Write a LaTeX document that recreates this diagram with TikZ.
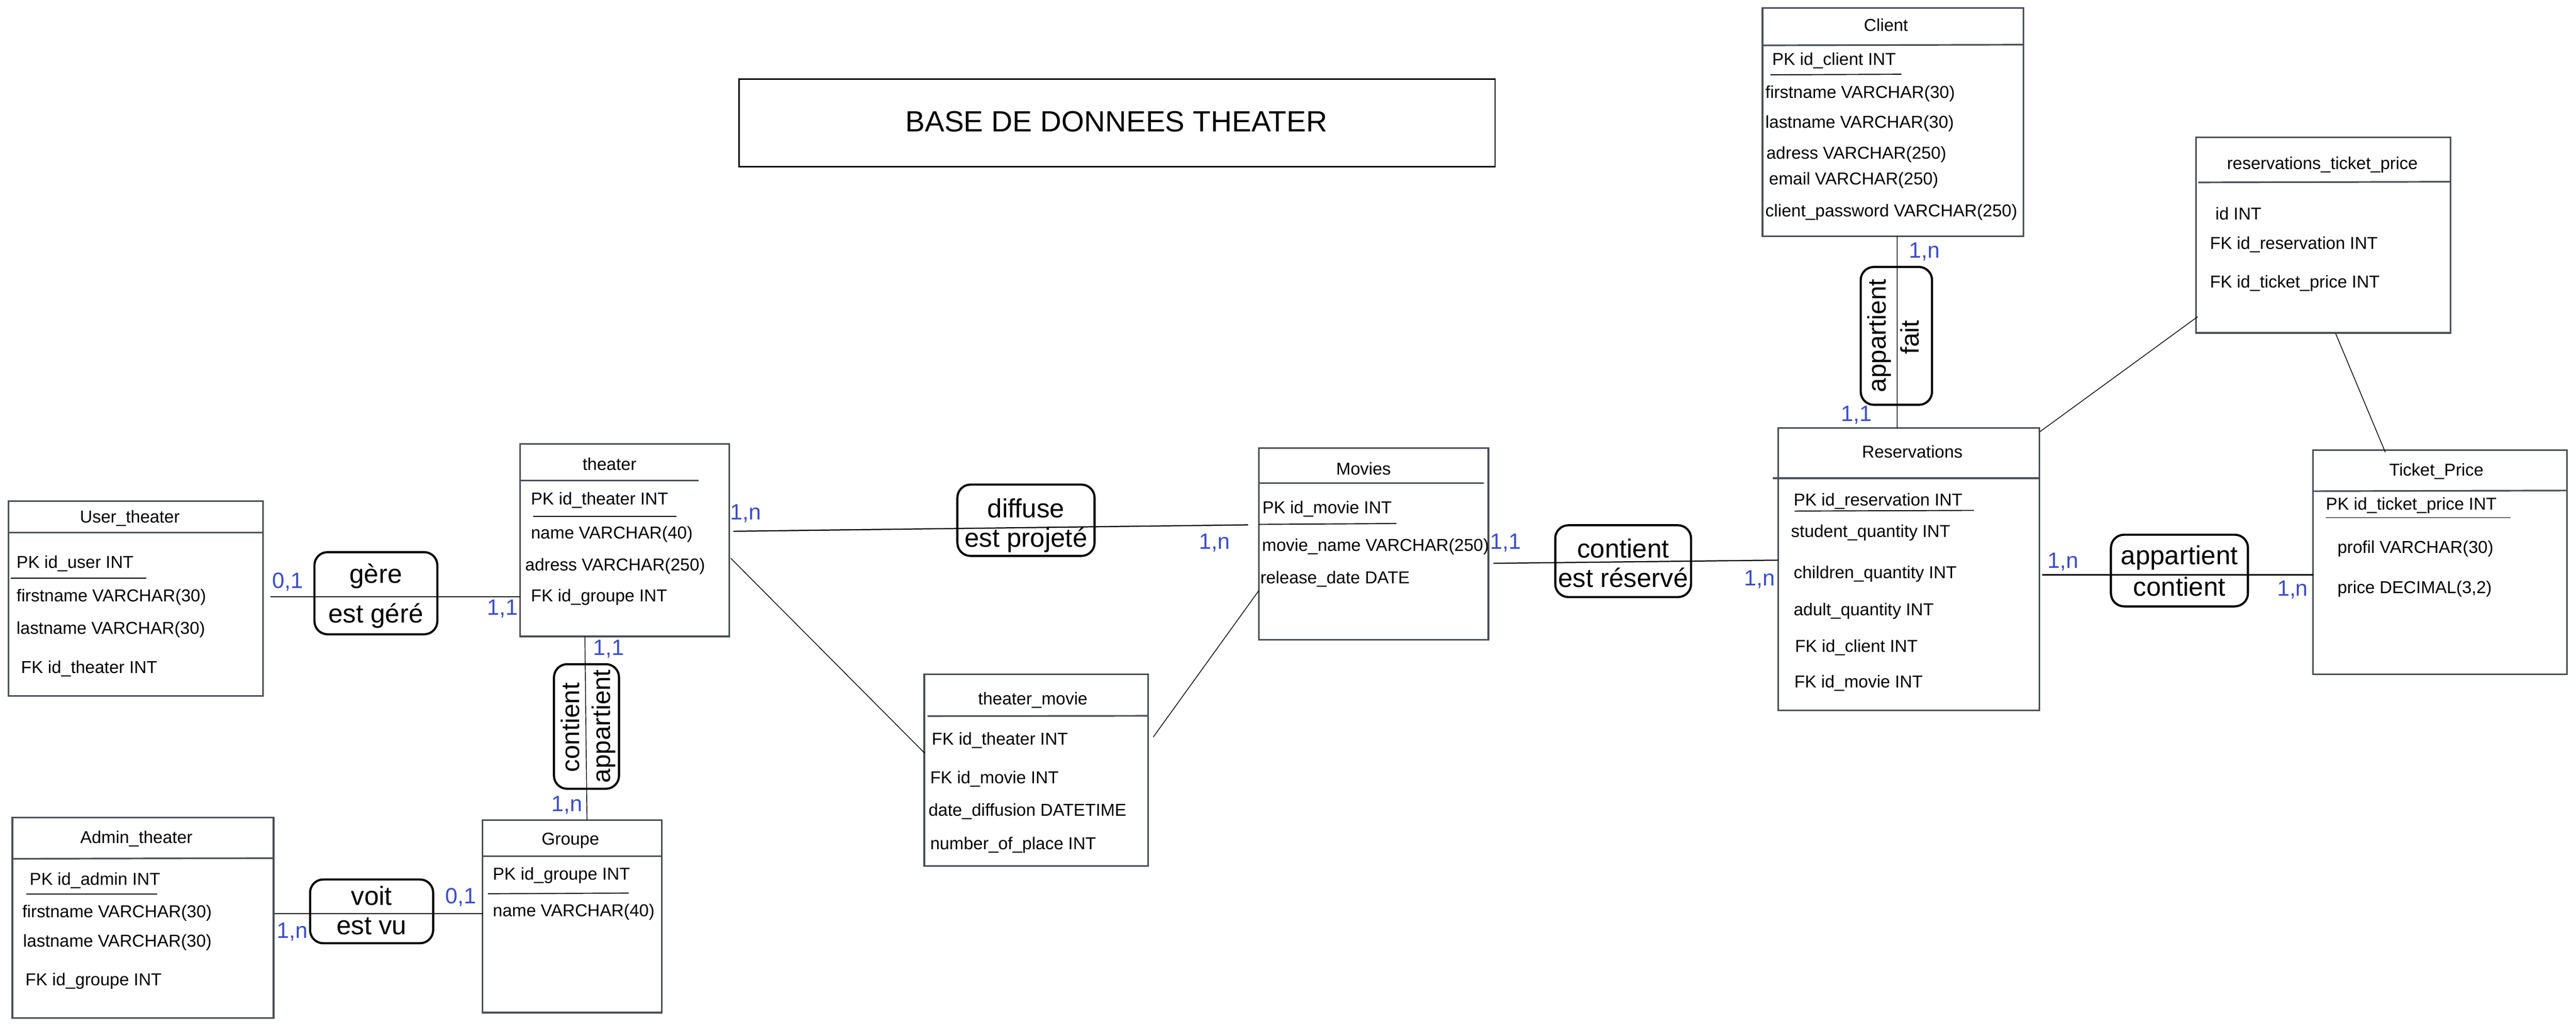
\documentclass[tikz,border=0pt]{standalone}
\usepackage{fontspec}
\setmainfont{Liberation Sans}
\usetikzlibrary{calc}
\definecolor{boxgray}{HTML}{495057}
\definecolor{cardblue}{HTML}{3B4CC8}
\newcommand\attrf{\fontsize{10.5}{12}\selectfont}
\newcommand\relf{\fontsize{16}{18}\selectfont}
\newcommand\vrelf{\fontsize{15.5}{18}\selectfont}
\newcommand\cardf{\fontsize{13.5}{15}\selectfont}
\newcommand\titlef{\fontsize{17.8}{20}\selectfont}
\begin{document}
\begin{tikzpicture}[x=1pt,y=-1pt,
  ent/.style={draw=boxgray, line width=1pt, inner sep=0pt, outer sep=0pt, anchor=north west},
  sepline/.style={draw=boxgray, line width=1pt},
  pkline/.style={draw=black, line width=0.6pt},
  ttl/.style={font=\attrf, inner sep=0pt},
  att/.style={font=\attrf, anchor=west, inner sep=0pt},
  rel/.style={draw=black, rounded corners=8pt, line width=1.3pt, inner sep=0pt},
  reltxt/.style={font=\relf, inner sep=0pt},
  vreltxt/.style={font=\vrelf, inner sep=0pt, rotate=90},
  card/.style={font=\cardf, text=cardblue, inner sep=0pt},
  conn/.style={draw=black, line width=0.7pt},
  thinconn/.style={draw=black, line width=0.45pt}]
\useasboundingbox (0,0) rectangle (1568,624.3);

% ---------- title ----------
\node[draw=black, line width=0.9pt, minimum width=460.2pt, minimum height=53.4pt, inner sep=0pt, anchor=north west] (titlebox) at (449.4,47.6) {};
\node[font=\titlef, inner sep=0pt] (titletext) at (679.5,74) {BASE DE DONNEES THEATER};

% ---------- User_theater ----------
\node[ent, minimum width=154.9pt, minimum height=118.7pt] (user) at (5.1,304.9) {};
\node[ttl] (userT) at (79,315.4) {User\_theater};
\draw[sepline] (5.1,324.2) -- (160,324.2);
\node[att] (u1) at (9.9,342.9) {PK id\_user INT};
\draw[pkline] (6.6,351.8) -- (89.1,351.8);
\node[att] (u2) at (9.9,363.3) {firstname VARCHAR(30)};
\node[att] (u3) at (9.9,383.2) {lastname VARCHAR(30)};
\node[att] (u4) at (12.6,406.8) {FK id\_theater INT};

% ---------- theater ----------
\node[ent, minimum width=127.3pt, minimum height=117.1pt] (theater) at (316.5,270.2) {};
\node[ttl] (theaterT) at (371,282.3) {theater};
\draw[sepline] (316.5,292.3) -- (425.3,292.3);
\node[att] (t1) at (323,304.4) {PK id\_theater INT};
\draw[pkline] (324.5,314.3) -- (411.9,314.3);
\node[att] (t2) at (323,325.3) {name VARCHAR(40)};
\node[att] (t3) at (319.5,344.6) {adress VARCHAR(250)};
\node[att] (t4) at (323,363.3) {FK id\_groupe INT};

% ---------- Movies ----------
\node[ent, minimum width=139.7pt, minimum height=116.7pt] (movies) at (766.3,272.7) {};
\node[ttl] (moviesT) at (830,285.1) {Movies};
\draw[sepline] (766.3,294) -- (903,294);
\node[att] (m1) at (768.2,309.7) {PK id\_movie INT};
\draw[pkline] (766.3,319.1) -- (850,318.6);
\node[att] (m2) at (768,332.8) {movie\_name VARCHAR(250)};
\node[att] (m3) at (767,352.3) {release\_date DATE};

% ---------- theater_movie ----------
\node[ent, minimum width=136.2pt, minimum height=116.7pt] (tm) at (562.6,410.3) {};
\node[ttl] (tmT) at (628.7,426) {theater\_movie};
\draw[sepline] (564.6,435.8) -- (698.8,435.6);
\node[att] (tm1) at (567,450.5) {FK id\_theater INT};
\node[att] (tm2) at (566,474) {FK id\_movie INT};
\node[att] (tm3) at (565,493.8) {date\_diffusion DATETIME};
\node[att] (tm4) at (566,514.2) {number\_of\_place INT};

% ---------- Groupe ----------
\node[ent, minimum width=109pt, minimum height=117.1pt] (groupe) at (293.8,499.1) {};
\node[ttl] (groupeT) at (347.2,511.7) {Groupe};
\draw[sepline] (293.8,521) -- (402.8,521);
\node[att] (g1) at (299.8,532.9) {PK id\_groupe INT};
\draw[pkline] (297,543.9) -- (382.7,543.5);
\node[att] (g2) at (299.8,555) {name VARCHAR(40)};

% ---------- Admin_theater ----------
\node[ent, minimum width=159pt, minimum height=122.1pt] (admin) at (7.5,497.4) {};
\node[ttl] (adminT) at (83,510.3) {Admin\_theater};
\draw[sepline] (7.5,522.6) -- (166.5,522.2);
\node[att] (a1) at (17.9,535.7) {PK id\_admin INT};
\draw[pkline] (16,544.2) -- (95.5,544.2);
\node[att] (a2) at (13.4,555.6) {firstname VARCHAR(30)};
\node[att] (a3) at (13.9,573.4) {lastname VARCHAR(30)};
\node[att] (a4) at (15.3,597) {FK id\_groupe INT};

% ---------- Reservations ----------
\node[ent, minimum width=159pt, minimum height=172pt] (resa) at (1082.4,260.4) {};
\node[ttl] (resaT) at (1164,274.8) {Reservations};
\draw[sepline] (1079,291) -- (1241.4,291);
\node[att] (r1) at (1091.6,305) {PK id\_reservation INT};
\draw[pkline] (1092.4,311) -- (1201.5,310.6);
\node[att] (r2) at (1090,324.3) {student\_quantity INT};
\node[att] (r3) at (1091.6,349.2) {children\_quantity INT};
\node[att] (r4) at (1091.6,371.9) {adult\_quantity INT};
\node[att] (r5) at (1092.4,394) {FK id\_client INT};
\node[att] (r6) at (1092,415.6) {FK id\_movie INT};

% ---------- Client ----------
\node[ent, minimum width=158.9pt, minimum height=138.9pt] (client) at (1072.8,4.8) {};
\node[ttl] (clientT) at (1148,15.2) {Client};
\draw[sepline] (1072.8,27.6) -- (1231.7,27.2);
\node[att] (c1) at (1078.5,36.9) {PK id\_client INT};
\draw[pkline] (1077.6,45.5) -- (1157.4,45.2);
\node[att] (c2) at (1074.4,57.1) {firstname VARCHAR(30)};
\node[att] (c3) at (1074.4,75.3) {lastname VARCHAR(30)};
\node[att] (c4) at (1075,94) {adress VARCHAR(250)};
\node[att] (c5) at (1076.6,109.6) {email VARCHAR(250)};
\node[att] (c6) at (1074.4,129) {client\_password VARCHAR(250)};

% ---------- reservations_ticket_price ----------
\node[ent, minimum width=155pt, minimum height=119pt] (rtp) at (1336.7,83.6) {};
\node[ttl] (rtpT) at (1413.6,100.4) {reservations\_ticket\_price};
\draw[sepline] (1338,111) -- (1491.7,110.6);
\node[att] (p1) at (1348.3,129.9) {id INT};
\node[att] (p2) at (1345,148.9) {FK id\_reservation INT};
\node[att] (p3) at (1345,172.3) {FK id\_ticket\_price INT};

% ---------- Ticket_Price ----------
\node[ent, minimum width=154.5pt, minimum height=136.4pt] (tp) at (1408,273.9) {};
\node[ttl] (tpT) at (1483,286.8) {Ticket\_Price};
\draw[sepline] (1408,298.9) -- (1562.5,298.5);
\node[att] (tp1) at (1415.6,307.7) {PK id\_ticket\_price INT};
\draw[pkline] (1415.6,315) -- (1528.3,315);
\node[att] (tp2) at (1422.6,333.8) {profil VARCHAR(30)};
\node[att] (tp3) at (1422.6,358.3) {price DECIMAL(3,2)};

% ---------- relationship boxes ----------
\node[rel, minimum width=74.8pt, minimum height=50pt] (gere) at (228.8,361) {};
\node[reltxt] at (228.8,350.7) {gère};
\node[reltxt] at (228.8,374.9) {est géré};

\node[rel, minimum width=83.5pt, minimum height=43.4pt] (diffuse) at (624.5,316.6) {};
\node[reltxt] at (624.5,309.4) {diffuse};
\node[reltxt] at (624.5,328.5) {est projeté};

\node[rel, minimum width=39.6pt, minimum height=75.8pt] (contient) at (357,442.1) {};
\node[vreltxt] at (347,442.7) {contient};
\node[vreltxt] at (367.4,441.9) {appartient};

\node[rel, minimum width=74.9pt, minimum height=38.8pt] (voit) at (226.2,554.6) {};
\node[reltxt] at (226.2,545.2) {voit};
\node[reltxt] at (226.2,563.7) {est vu};

\node[rel, minimum width=82.7pt, minimum height=43.7pt] (reserve) at (988,341.5) {};
\node[reltxt] at (988,333.8) {contient};
\node[reltxt] at (988,351.4) {est réservé};

\node[rel, minimum width=83.4pt, minimum height=43.6pt] (appcont) at (1326.6,347.2) {};
\node[reltxt] at (1326.6,339.4) {appartient};
\node[reltxt] at (1326.6,357) {contient};

\node[rel, minimum width=43.4pt, minimum height=83.9pt] (fait) at (1154.3,204.4) {};
\node[vreltxt] at (1143.9,204.3) {appartient};
\node[vreltxt] at (1162.4,205.2) {fait};

% ---------- connectors ----------
\draw[conn] ($(user.north east)+(4.5,58.2)$) -- ($(theater.north west)+(0,92.9)$);
\draw[conn] ($(theater.north east)+(2.6,53.1)$) -- ($(movies.north west)+(-6.6,46.7)$);
\draw[thinconn] ($(theater.north east)+(1,69.5)$) -- ($(tm.north west)+(0.2,48)$);
\draw[thinconn] ($(tm.north east)+(3.2,38.2)$) -- ($(movies.north west)+(0,86.6)$);
\draw[thinconn] ($(theater.south west)+(39.5,0)$) -- ($(groupe.north west)+(63.5,0)$);
\draw[conn] ($(admin.north east)+(0.5,58.6)$) -- ($(groupe.north west)+(0,56.9)$);
\draw[conn] ($(movies.north east)+(3,70.1)$) -- ($(resa.north west)+(0,80.5)$);
\draw[thinconn] ($(client.south west)+(82,0)$) -- ($(resa.north west)+(72.4,0)$);
\draw[conn] ($(resa.north east)+(1.6,89.4)$) -- ($(tp.north west)+(0,75.9)$);
\draw[thinconn] ($(rtp.north west)+(1,109.1)$) -- ($(resa.north east)+(0.3,2.3)$);
\draw[thinconn] ($(rtp.south west)+(85,0.4)$) -- ($(tp.north west)+(43.9,1.3)$);

% ---------- cardinalities ----------
\node[card] (k1) at (175,354) {0,1};
\node[card] (k2) at (306,370.5) {1,1};
\node[card] (k3) at (454,312.5) {1,n};
\node[card] (k4) at (739.2,330.5) {1,n};
\node[card] (k5) at (370.5,395) {1,1};
\node[card] (k6) at (345.2,490) {1,n};
\node[card] (k7) at (280.5,546) {0,1};
\node[card] (k8) at (178,567) {1,n};
\node[card] (k9) at (916.5,330.5) {1,1};
\node[card] (k10) at (1071,352.5) {1,n};
\node[card] (k11) at (1171.3,153.3) {1,n};
\node[card] (k12) at (1130,252.5) {1,1};
\node[card] (k13) at (1255.7,342) {1,n};
\node[card] (k14) at (1395.5,359) {1,n};
\end{tikzpicture}
\end{document}
